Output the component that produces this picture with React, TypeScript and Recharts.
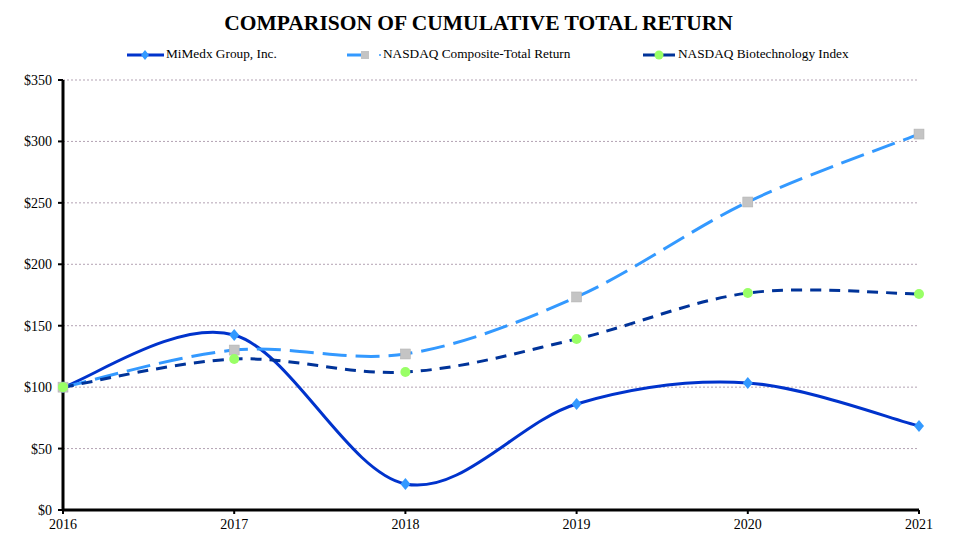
import React from "react";
import { CartesianGrid, Line, LineChart, XAxis, YAxis } from "recharts";

const years = ["2016", "2017", "2018", "2019", "2020", "2021"];
const mimedx = [100, 142.4, 21.2, 86.3, 103.4, 68.4];
const nasdaqComposite = [100, 130.2, 127, 173.4, 250.7, 306];
const nasdaqBiotech = [100, 122.9, 112.3, 139.2, 176.6, 175.8];
const yTicks = [0, 50, 100, 150, 200, 250, 300, 350];

const data = years.map((y, i) => ({
  year: y,
  mimedx: mimedx[i],
  composite: nasdaqComposite[i],
  biotech: nasdaqBiotech[i],
}));

const FONT = "'Liberation Serif', 'Times New Roman', serif";

// excel style smoothing (catmull-rom through the points)
function excelCurve(context: any) {
  let pts: number[][] = [];
  return {
    areaStart() {},
    areaEnd() {},
    lineStart() {
      pts = [];
    },
    point(x: number, y: number) {
      pts.push([+x, +y]);
    },
    lineEnd() {
      if (!pts.length) return;
      context.moveTo(pts[0][0], pts[0][1]);
      for (let i = 0; i < pts.length - 1; i++) {
        const p0 = pts[i - 1] || pts[i];
        const p1 = pts[i];
        const p2 = pts[i + 1];
        const p3 = pts[i + 2] || pts[i + 1];
        context.bezierCurveTo(
          p1[0] + (p2[0] - p0[0]) / 6,
          p1[1] + (p2[1] - p0[1]) / 6,
          p2[0] - (p3[0] - p1[0]) / 6,
          p2[1] - (p3[1] - p1[1]) / 6,
          p2[0],
          p2[1]
        );
      }
    },
  };
}

const Diamond = (p: any) => (
  <polygon
    key={`d-${p.index}`}
    points={`${p.cx},${p.cy - 6} ${p.cx + 5},${p.cy} ${p.cx},${p.cy + 6} ${p.cx - 5},${p.cy}`}
    fill="#3399ff"
  />
);

const Square = (p: any) => (
  <rect key={`s-${p.index}`} x={p.cx - 5} y={p.cy - 5} width={10} height={10} fill="#c4c4c4" stroke="#b0b0b0" strokeWidth={0.5} />
);

const Circle = (p: any) => <circle key={`c-${p.index}`} cx={p.cx} cy={p.cy} r={5} fill="#99ff66" />;

function LegendItems() {
  const txt: React.CSSProperties = { position: "absolute", top: 46, fontFamily: FONT, fontSize: 13.3, color: "#000", whiteSpace: "nowrap" };
  return (
    <>
      <svg style={{ position: "absolute", left: 0, top: 0 }} width={957} height={70}>
        <line x1={127} y1={55} x2={164} y2={55} stroke="#0033cc" strokeWidth={3} />
        <polygon points="145,50 149,55 145,60 141,55" fill="#3399ff" />
        <line x1={347} y1={55} x2={369} y2={55} stroke="#3399ff" strokeWidth={3} />
        <rect x={361} y={51} width={8} height={8} fill="#c4c4c4" />
        <circle cx={380} cy={55} r={1} fill="#3399ff" />
        <line x1={643} y1={55} x2={675} y2={55} stroke="#003399" strokeWidth={3} />
        <circle cx={659} cy={55} r={4.5} fill="#99ff66" />
      </svg>
      <div style={{ ...txt, left: 166 }}>MiMedx Group, Inc.</div>
      <div style={{ ...txt, left: 383 }}>NASDAQ Composite-Total Return</div>
      <div style={{ ...txt, left: 678 }}>NASDAQ Biotechnology Index</div>
    </>
  );
}

const tickStyle = { fill: "#000", fontFamily: FONT, fontSize: 14, style: { fontFamily: FONT } };

export default function App() {
  return (
    <div style={{ position: "absolute", left: 0, top: 0, width: 957, height: 541, background: "#fff", fontFamily: FONT }}>
      <div
        style={{
          position: "absolute",
          top: 11,
          left: 0,
          width: 957,
          textAlign: "center",
          fontFamily: FONT,
          fontWeight: "bold",
          fontSize: 21.5,
        }}
      >
        COMPARISON OF CUMULATIVE TOTAL RETURN
      </div>
      <LegendItems />
      <div style={{ position: "absolute", left: 0, top: 0 }}>
        <LineChart
          width={957}
          height={541}
          data={data}
          margin={{ top: 80, right: 38, bottom: 0, left: 0 }}
          style={{ fontFamily: FONT }}
        >
          <CartesianGrid vertical={false} stroke="#b3a3b3" strokeDasharray="2 2" />
          <XAxis
            dataKey="year"
            height={31}
            axisLine={{ stroke: "#000", strokeWidth: 3 }}
            tickLine={{ stroke: "#000", strokeWidth: 2 }}
            tickSize={4}
            tick={tickStyle}
            tickMargin={5}
          />
          <YAxis
            width={63}
            domain={[0, 350]}
            ticks={yTicks}
            interval={0}
            axisLine={{ stroke: "#000", strokeWidth: 3 }}
            tickLine={{ stroke: "#000", strokeWidth: 2 }}
            tickSize={5}
            tickMargin={6}
            tickFormatter={(v) => `$${v}`}
            tick={tickStyle}
          />
          <Line
            dataKey="mimedx"
            type={excelCurve as any}
            stroke="#0033cc"
            strokeWidth={3}
            dot={Diamond}
            isAnimationActive={false}
          />
          <Line
            dataKey="composite"
            type={excelCurve as any}
            stroke="#3399ff"
            strokeWidth={3}
            strokeDasharray="24 9"
            dot={Square}
            isAnimationActive={false}
          />
          <Line
            dataKey="biotech"
            type={excelCurve as any}
            stroke="#003399"
            strokeWidth={3}
            strokeDasharray="11 8"
            dot={Circle}
            isAnimationActive={false}
          />
        </LineChart>
      </div>
    </div>
  );
}
